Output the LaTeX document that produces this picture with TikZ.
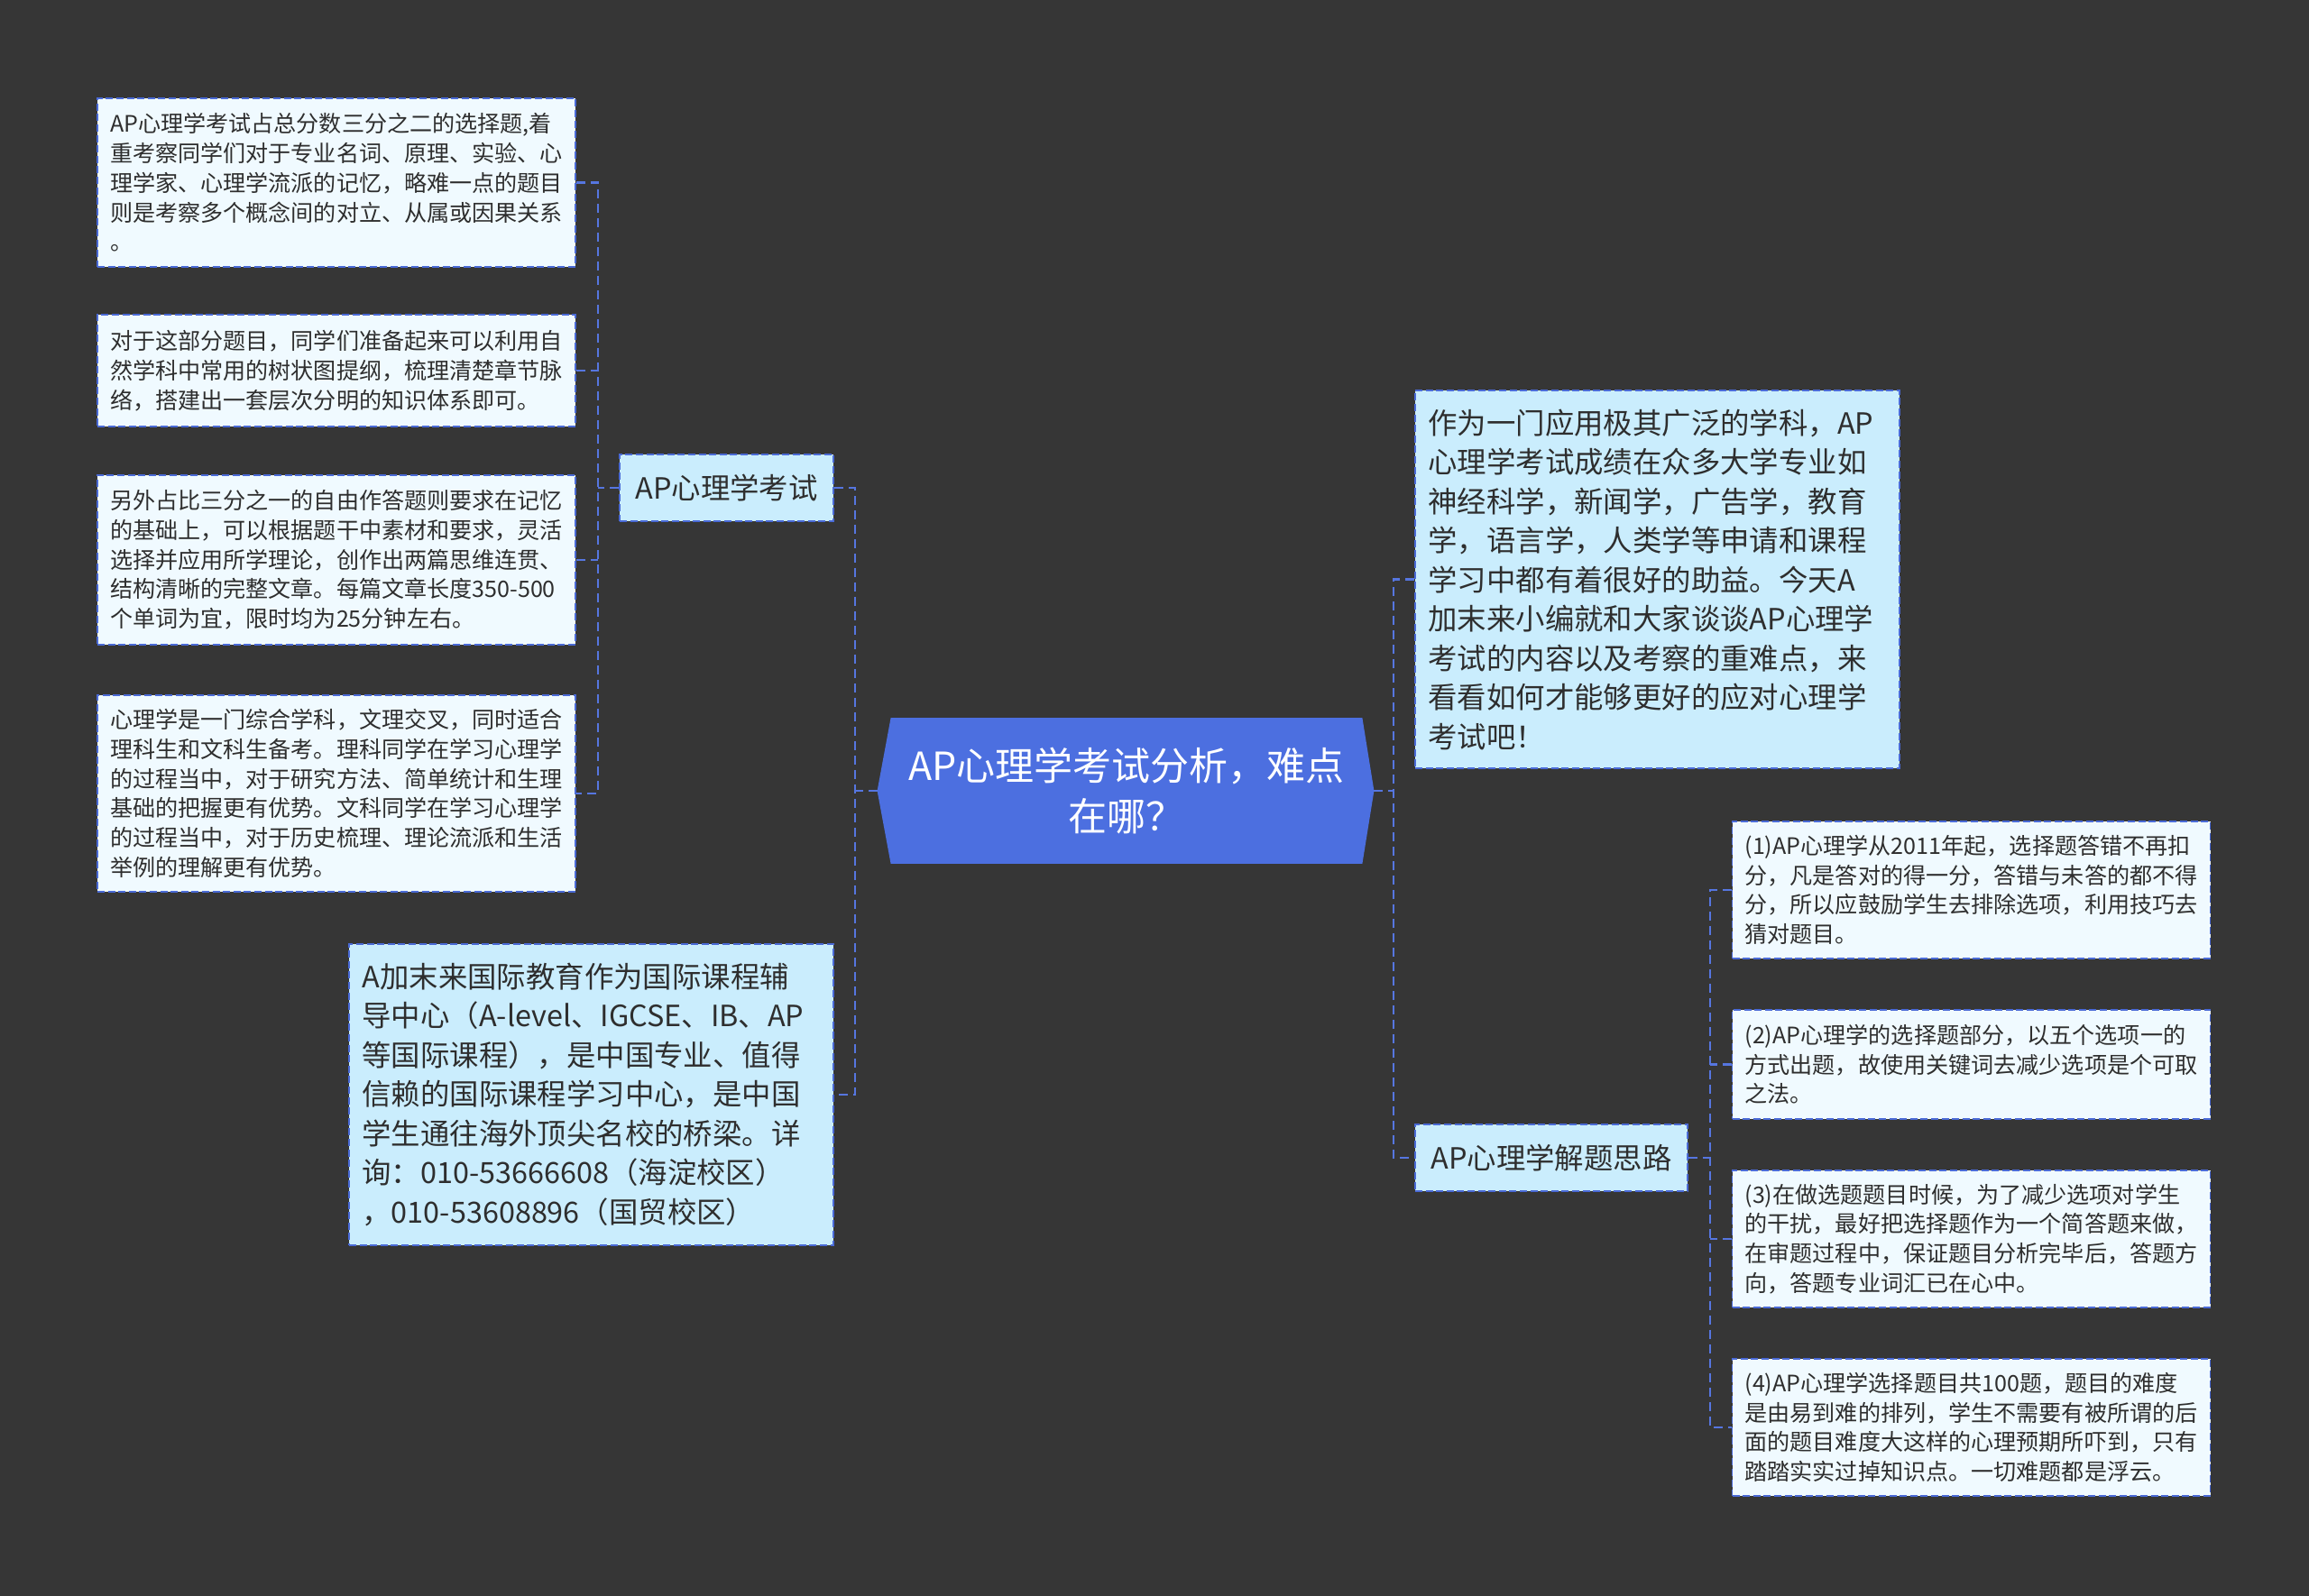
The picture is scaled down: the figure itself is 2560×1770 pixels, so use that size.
\documentclass[tikz,border=0pt]{standalone}
\usepackage{fontspec}
\setmainfont{Noto Sans CJK SC}
\usetikzlibrary{backgrounds}
\definecolor{bgcol}{HTML}{363636}
\definecolor{rootfill}{HTML}{4C6FE0}
\definecolor{linecol}{HTML}{5676E0}
\definecolor{bordcol}{HTML}{4A6AD6}
\definecolor{branchfill}{HTML}{CAEDFD}
\definecolor{leaffill}{HTML}{F0FAFF}
\definecolor{txtcol}{HTML}{2E2E2E}
\begin{document}
\begin{tikzpicture}[x=0.5pt,y=-0.5pt,
  conn/.style={draw=linecol,line width=1.35pt,dash pattern=on 5pt off 3pt},
  boxbase/.style={draw=bordcol,line width=0.9pt,dash pattern=on 4pt off 1.8pt,text=txtcol,inner ysep=0pt},
  leafbox/.style={boxbase,fill=leaffill,font=\fontsize{12.55}{16.35}\selectfont,align=left,
     inner xsep=0pt,minimum width=265pt},
  bigbox/.style={boxbase,fill=branchfill,font=\fontsize{16.2}{21.75}\selectfont,align=left,
     text width=254pt,inner xsep=7.25pt,minimum width=268.5pt},
  branchbox/.style={boxbase,fill=branchfill,font=\fontsize{16.2}{21.75}\selectfont,align=center,
     inner xsep=0pt,minimum height=37pt},
  rootbox/.style={text=white,font=\fontsize{21.5}{27.8}\selectfont,align=center,
     text width=255pt,inner xsep=3pt,inner ysep=0pt,minimum width=261pt,minimum height=80.5pt}
]
\useasboundingbox (0,0) rectangle (2560,1770);

% root
\node[rootbox] (root) at (1249,877) {AP心理学考试分析，难点\\在哪？};

% left branch
\node[branchbox,minimum width=118.5pt] (b1) at (805.5,541) {AP心理学考试};
\node[bigbox,minimum height=167pt] (b2) at (655.5,1214) {A加末来国际教育作为国际课程辅\\导中心（A-level、IGCSE、IB、AP\\等国际课程），是中国专业、值得\\信赖的国际课程学习中心，是中国\\学生通往海外顶尖名校的桥梁。详\\询：010-53666608（海淀校区）\\，010-53608896（国贸校区）};

% left leaves
\node[leafbox,minimum height=93.5pt] (l1) at (373,202.5) {AP心理学考试占总分数三分之二的选择题,着\\重考察同学们对于专业名词、原理、实验、心\\理学家、心理学流派的记忆，略难一点的题目\\则是考察多个概念间的对立、从属或因果关系\\。};
\node[leafbox,minimum height=62pt] (l2) at (373,411) {对于这部分题目，同学们准备起来可以利用自\\然学科中常用的树状图提纲，梳理清楚章节脉\\络，搭建出一套层次分明的知识体系即可。};
\node[leafbox,minimum height=94pt] (l3) at (373,621) {另外占比三分之一的自由作答题则要求在记忆\\的基础上，可以根据题干中素材和要求，灵活\\选择并应用所学理论，创作出两篇思维连贯、\\结构清晰的完整文章。每篇文章长度350-500\\个单词为宜，限时均为25分钟左右。};
\node[leafbox,minimum height=109pt] (l4) at (373,880) {心理学是一门综合学科，文理交叉，同时适合\\理科生和文科生备考。理科同学在学习心理学\\的过程当中，对于研究方法、简单统计和生理\\基础的把握更有优势。文科同学在学习心理学\\的过程当中，对于历史梳理、理论流派和生活\\举例的理解更有优势。};

% right branch
\node[bigbox,minimum height=209.5pt] (b3) at (1837.5,642.5) {作为一门应用极其广泛的学科，AP\\心理学考试成绩在众多大学专业如\\神经科学，新闻学，广告学，教育\\学，语言学，人类学等申请和课程\\学习中都有着很好的助益。今天A\\加末来小编就和大家谈谈AP心理学\\考试的内容以及考察的重难点，来\\看看如何才能够更好的应对心理学\\考试吧！};
\node[branchbox,minimum width=151pt] (b4) at (1720,1284) {AP心理学解题思路};

% right leaves
\node[leafbox,minimum height=76pt] (r1) at (2185.5,987) {(1)AP心理学从2011年起，选择题答错不再扣\\分，凡是答对的得一分，答错与未答的都不得\\分，所以应鼓励学生去排除选项，利用技巧去\\猜对题目。};
\node[leafbox,minimum height=60.5pt] (r2) at (2185.5,1180.5) {(2)AP心理学的选择题部分，以五个选项一的\\方式出题，故使用关键词去减少选项是个可取\\之法。};
\node[leafbox,minimum height=76pt] (r3) at (2185.5,1374) {(3)在做选题题目时候，为了减少选项对学生\\的干扰，最好把选择题作为一个简答题来做，\\在审题过程中，保证题目分析完毕后，答题方\\向，答题专业词汇已在心中。};
\node[leafbox,minimum height=76pt] (r4) at (2185.5,1583) {(4)AP心理学选择题目共100题，题目的难度\\是由易到难的排列，学生不需要有被所谓的后\\面的题目难度大这样的心理预期所吓到，只有\\踏踏实实过掉知识点。一切难题都是浮云。};

% background and root shape
\begin{scope}[on background layer]
  \fill[bgcol] (0,0) rectangle (2560,1770);
  \fill[rootfill] (root.north west) -- (root.north east) -- ([xshift=6.5pt]root.east)
     -- (root.south east) -- (root.south west) -- ([xshift=-7.5pt]root.west) -- cycle;
\end{scope}

% bus coordinates
\coordinate (rootL) at ([xshift=-7.5pt]root.west);
\coordinate (rootR) at ([xshift=6.5pt]root.east);
\coordinate (lbus) at (948,877);
\coordinate (lbus2) at (663,541);
\coordinate (rbus) at (1545,877);
\coordinate (rbus2) at (1896,1284);

% connectors
\draw[conn] (rootL) -- (lbus);
\draw[conn] (b1.east) -| (lbus) |- (b2.east);
\draw[conn] (b1.west) -- (lbus2);
\draw[conn] (l1.east) -| (lbus2) |- (l4.east);
\draw[conn] (l2.east) -- (l2.east -| lbus2);
\draw[conn] (l3.east) -- (l3.east -| lbus2);

\draw[conn] (rootR) -- (rbus);
\draw[conn] (b3.west) -| (rbus) |- (b4.west);
\draw[conn] (b4.east) -- (rbus2);
\draw[conn] (r1.west) -| (rbus2) |- (r4.west);
\draw[conn] (r2.west) -- (r2.west -| rbus2);
\draw[conn] (r3.west) -- (r3.west -| rbus2);
\end{tikzpicture}
\end{document}
